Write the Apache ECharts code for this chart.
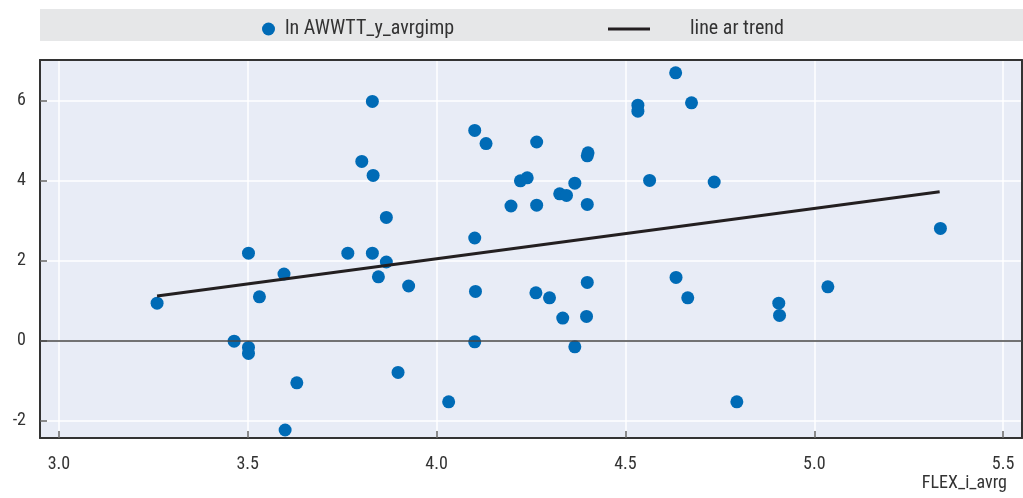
<!DOCTYPE html>
<html>
<head>
<meta charset="utf-8">
<script src="https://cdn.jsdelivr.net/npm/echarts@6/dist/echarts.min.js"></script>
<style>
html,body{margin:0;padding:0;background:#fff;}
#c{width:1023px;height:498px;}
</style>
</head>
<body>
<div id="c"></div>
<script>
const seriesName = 'ln AWWTT_y_avrgimp';
const trendName = 'line ar trend';
const xName = 'FLEX_i_avrg';
const xValues = [3.260,3.830,4.101,4.131,3.802,3.832,3.867,4.101,3.502,3.765,3.830,3.867,3.596,3.846,3.926,3.531,4.103,3.464,3.502,3.502,4.101,3.630,3.898,4.032,3.599,
  4.633,4.533,4.533,4.675,4.265,4.401,4.399,4.222,4.240,4.366,4.564,4.735,4.326,4.344,4.197,4.265,4.399,5.334,4.634,4.263,4.299,4.399,4.665,5.036,4.906,4.908,4.334,4.397,4.366,4.795];
const yValues = [0.94,5.985,5.26,4.93,4.485,4.135,3.085,2.57,2.19,2.19,2.19,1.97,1.67,1.60,1.37,1.10,1.235,-0.01,-0.165,-0.315,-0.025,-1.05,-0.79,-1.525,-2.23,
  6.70,5.89,5.74,5.95,4.97,4.70,4.625,4.0,4.075,3.94,4.01,3.97,3.675,3.635,3.37,3.39,3.41,2.81,1.585,1.20,1.075,1.46,1.075,1.35,0.94,0.635,0.567,0.61,-0.15,-1.525];
const trendX = [3.26, 5.332];
const trendY = [1.12, 3.725];
const xMin = 2.95, xMax = 5.55, yMin = -2.43, yMax = 7.02;

const FONT = "'Roboto Condensed','Liberation Sans Narrow','DejaVu Sans Condensed','Arial Narrow',sans-serif";
const scatterData = xValues.map((x, i) => [x, yValues[i]]);
const trendData = trendX.map((x, i) => [x, trendY[i]]);

const chart = echarts.init(document.getElementById('c'), null, {renderer: 'canvas'});
chart.setOption({
  animation: false,
  graphic: [{type: 'rect', left: 40, top: 9, shape: {width: 983, height: 32}, style: {fill: '#e6e7e8'}, z: -10}],
  title: {text: xName, right: 11, bottom: 1, textStyle: {fontFamily: FONT, fontSize: 18, fontWeight: 'normal', color: '#333'}},
  legend: [
    {data: [{name: seriesName, icon: 'circle'}], left: 257, top: 14, itemWidth: 13, itemHeight: 13,
     textStyle: {fontFamily: FONT, fontSize: 20, color: '#333', padding: [0,0,0,5]}},
    {data: [{name: trendName, icon: 'rect'}], left: 603, top: 14, itemWidth: 42, itemHeight: 3,
     textStyle: {fontFamily: FONT, fontSize: 20, color: '#333', padding: [0,0,0,35]}}
  ],
  grid: {left: 40, top: 60, right: 1, bottom: 60, show: true, backgroundColor: '#e8ecf6', borderWidth: 0},
  xAxis: [{
    type: 'value', min: xMin, max: xMax, splitNumber: 5,
    axisLine: {show: true, onZero: false, lineStyle: {color: '#333', width: 2}},
    axisTick: {show: true, inside: true, length: 7, lineStyle: {color: '#666', width: 1.5}},
    axisLabel: {showMinLabel: false, showMaxLabel: false, margin: 17, fontFamily: FONT, fontSize: 18, color: '#333',
      formatter: v => v.toFixed(1)},
    splitLine: {show: true, lineStyle: {color: '#ffffff', width: 1.5}}
  }, {
    type: 'value', position: 'top', min: xMin, max: xMax,
    axisLine: {show: true, onZero: false, lineStyle: {color: '#333', width: 2}},
    axisTick: {show: false}, axisLabel: {show: false}, splitLine: {show: false}
  }],
  yAxis: [{
    type: 'value', min: yMin, max: yMax, splitNumber: 5,
    axisLine: {show: true, onZero: false, lineStyle: {color: '#333', width: 2}},
    axisTick: {show: true, inside: true, length: 7, lineStyle: {color: '#666', width: 1.5}},
    axisLabel: {showMinLabel: false, showMaxLabel: false, margin: 14, fontFamily: FONT, fontSize: 18, color: '#333'},
    splitLine: {show: true, lineStyle: {color: '#ffffff', width: 1.5}}
  }, {
    type: 'value', position: 'right', min: yMin, max: yMax,
    axisLine: {show: true, onZero: false, lineStyle: {color: '#333', width: 2}},
    axisTick: {show: false}, axisLabel: {show: false}, splitLine: {show: false}
  }],
  series: [
    {name: seriesName, type: 'scatter', data: scatterData, symbolSize: 13, itemStyle: {color: '#006bb6', opacity: 1}, z: 3,
     markLine: {silent: true, symbol: 'none', label: {show: false}, lineStyle: {color: '#444', width: 1.5, type: 'solid'}, data: [{yAxis: 0}]}},
    {name: trendName, type: 'line', data: trendData, symbol: 'none', lineStyle: {color: '#231f20', width: 3}, itemStyle: {color: '#231f20'}, z: 4}
  ]
});
</script>
</body>
</html>
